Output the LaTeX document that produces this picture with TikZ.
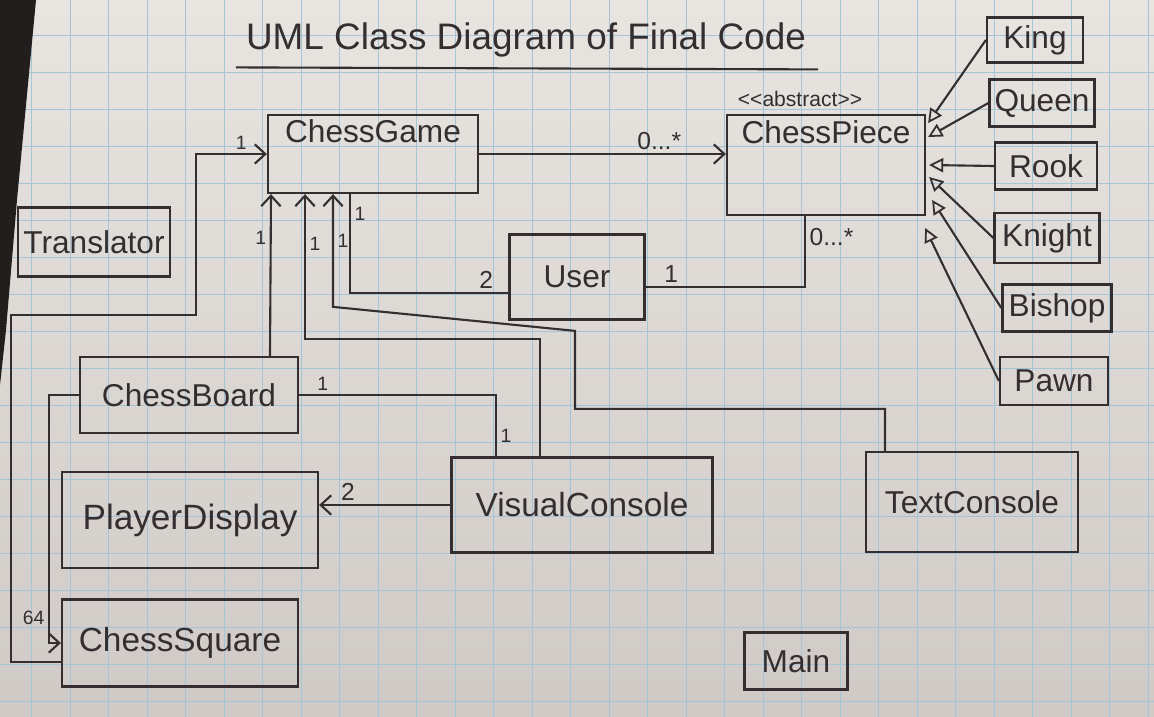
\documentclass[tikz,border=0pt]{standalone}
\usepackage{fontspec}
\setmainfont{Liberation Sans}
\usetikzlibrary{arrows.meta, positioning}

\definecolor{ink}{RGB}{52,46,48}
\definecolor{paper}{RGB}{232,228,223}
\definecolor{paperlow}{RGB}{207,202,197}
\definecolor{gridblue}{RGB}{165,196,214}
\definecolor{desk}{RGB}{34,30,30}

\begin{document}
\begin{tikzpicture}[x=0.02cm, y=-0.02cm,
  cls/.style={draw=ink, line width=1.3pt, text=ink, inner sep=0pt, align=center, font=\fontsize{18}{20}\selectfont},
  wire/.style={draw=ink, line width=1.2pt},
  nav/.style={wire, -{Straight Barb[length=6pt, width=11pt, line width=1.2pt]}},
  gen/.style={wire, -{Triangle[open, length=8pt, width=8pt, line width=1pt]}},
  mult/.style={text=ink, inner sep=2pt, font=\fontsize{11}{11}\selectfont},
  multbig/.style={mult, font=\fontsize{14}{14}\selectfont},
  gridline/.style={draw=gridblue, line width=0.5pt}]

% paper, grid and the edge of the desk
\useasboundingbox (0,0) rectangle (1154,717) ;
\shade[top color=paper, bottom color=paperlow] (0,0) rectangle (1154,717) ;
\foreach \gx in {0,...,29} \draw[gridline] (31.5+38.5*\gx,0) -- (31.5+38.5*\gx,717) ;
\foreach \gy in {0,...,18} \draw[gridline] (0,35+37*\gy) -- (1154,35+37*\gy) ;
\fill[desk] (0,0) -- (36,0) -- (17,200) -- (6,330) -- (0,385) -- cycle ;

\node[text=ink, font=\fontsize{21}{24}\selectfont] at (526,40) (title) {UML Class Diagram of Final Code} ;
\draw[wire] ([shift={(-4,4)}]title.south west) -- ([shift={(6,6)}]title.south east) ;

\node[cls, minimum width=4.2cm, minimum height=1.56cm] at (373,154) (game) {ChessGame\\\strut} ;
\node[cls, minimum width=3.96cm, minimum height=2cm] at (826,165) (piece) {ChessPiece\\[12pt]\strut} ;
\node[mult, font=\fontsize{12}{12}\selectfont] at (800,99) (stereo) {<\kern0pt<abstract>\kern0pt>} ;

\node[cls, minimum width=1.92cm, minimum height=0.9cm] at (1035,40) (king) {King} ;
\node[cls, minimum width=2.1cm, minimum height=0.94cm] at (1042,103) (queen) {Queen} ;
\node[cls, minimum width=2.04cm, minimum height=0.94cm] at (1046,166) (rook) {Rook} ;
\node[cls, minimum width=2.1cm, minimum height=1cm] at (1047,238) (knight) {Knight} ;
\node[cls, minimum width=2.18cm, minimum height=0.94cm] at (1057,308) (bishop) {Bishop} ;
\node[cls, minimum width=2.16cm, minimum height=0.96cm] at (1054,381) (pawn) {Pawn} ;

\node[cls, minimum width=3.04cm, minimum height=1.38cm] at (94,242) (translator) {Translator} ;
\node[cls, minimum width=2.7cm, minimum height=1.7cm] at (577,277) (user) {User} ;
\node[cls, minimum width=4.36cm, minimum height=1.52cm] at (189,395) (board) {ChessBoard} ;
\node[cls, minimum width=5.12cm, minimum height=1.92cm, font=\fontsize{20}{22}\selectfont] at (190,520) (pdisp) {PlayerDisplay} ;
\node[cls, minimum width=5.22cm, minimum height=1.9cm, font=\fontsize{19}{22}\selectfont] at (582,505) (vc) {VisualConsole} ;
\node[cls, minimum width=4.24cm, minimum height=2cm] at (972,502) (tc) {TextConsole} ;
\node[cls, minimum width=4.72cm, minimum height=1.74cm, font=\fontsize{19}{22}\selectfont] at (180,643) (csq) {ChessSquare} ;
\node[cls, minimum width=2.06cm, minimum height=1.14cm] at (796,661) (main) {Main} ;

% associations
\draw[nav] (game.east) -- node[multbig, above, pos=0.73]{0...*} (game.east -| piece.west) ;
\draw[wire] ([shift={(0,10)}]user.east) -| node[multbig, above, pos=0.08]{1} node[multbig, right, pos=0.85]{0...*} ([shift={(-21,0)}]piece.south) ;
\draw[wire] ([shift={(0,16)}]user.west) -| node[multbig, above, pos=0.07]{2} node[mult, right, pos=0.9]{1} ([shift={(-23,0)}]game.south) ;
\draw[nav] ([shift={(81,0)}]board.north) -- node[mult, left, pos=0.73]{1} ([shift={(-102,0)}]game.south) ;
\draw[nav] ([shift={(-42,0)}]vc.north) -- ++(0,-117) -| node[mult, right, pos=0.83]{1} ([shift={(-68,0)}]game.south) ;
\draw[nav] ([shift={(-87,0)}]tc.north) -- ++(0,-42) -- ++(-310,0) -- ++(0,-78) -- ++(-242,-24) coordinate (tcbend) -- node[mult, right, pos=0.59]{1} (tcbend |- game.south) ;
\draw[wire] (board.east) -| node[mult, above, pos=0.06]{1} node[mult, right, pos=0.83]{1} ([shift={(-86,0)}]vc.north) ;
\draw[nav] (vc.west) -- node[multbig, above, pos=0.78]{2} (vc.west -| pdisp.east) ;
\draw[nav] (board.west) -- ++(-30,0) |- node[mult, left, pos=0.45]{64} (csq.west) ;
\draw[nav] ([shift={(0,19)}]csq.west) -- ++(-50,0) -- ++(0,-347) -- ++(185,0) |- node[mult, above, pos=0.82]{1} (game.west) ;

% inheritance
\draw[gen] (king.west) -- ([shift={(2,-42)}]piece.east) ;
\draw[gen] (queen.west) -- ([shift={(2,-28)}]piece.east) ;
\draw[gen] (rook.west) -- ([shift={(3,0)}]piece.east) ;
\draw[gen] (knight.west) -- ([shift={(3,12)}]piece.east) ;
\draw[gen] (bishop.west) -- ([shift={(6,35)}]piece.east) ;
\draw[gen] (pawn.west) -- ([shift={(-1,63)}]piece.east) ;
\end{tikzpicture}
\end{document}
